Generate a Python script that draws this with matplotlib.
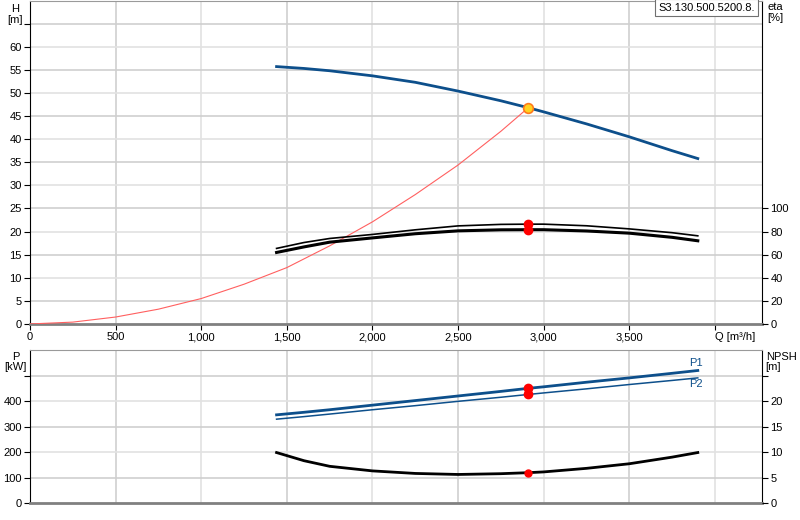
import matplotlib
matplotlib.use("Agg")
import matplotlib.pyplot as plt

plt.rcParams["font.family"] = ["Liberation Sans", "DejaVu Sans"]
plt.rcParams["font.size"] = 8

# ── Data ──────────────────────────────────────────────────────
q_pump = [1440, 1600, 1750, 2000, 2250, 2500, 2750, 2910, 3000, 3250, 3500, 3750, 3900]
head   = [55.7, 55.3, 54.8, 53.7, 52.3, 50.4, 48.3, 46.8, 45.9, 43.3, 40.5, 37.5, 35.8]
eta1   = [65.4, 70.5, 74.0, 77.5, 81.5, 84.9, 86.2, 86.4, 86.4, 85.0, 82.3, 79.0, 76.3]
eta2   = [61.9, 66.7, 70.8, 74.5, 78.1, 80.6, 81.5, 81.6, 81.6, 80.5, 78.6, 75.0, 72.0]
p1     = [346, 356, 366, 384, 402, 420, 438, 450, 456, 474, 491, 509, 520]
p2     = [329, 339, 349, 366, 382, 399, 415, 426, 432, 448, 465, 481, 491]
npsh   = [9.9, 8.3, 7.2, 6.3, 5.8, 5.6, 5.75, 5.95, 6.1, 6.8, 7.7, 9.0, 9.9]

q_sys = [0, 250, 500, 750, 1000, 1250, 1500, 1750, 2000, 2250, 2500, 2750, 2910]
h_sys = [0, 0.4, 1.5, 3.2, 5.5, 8.6, 12.2, 16.9, 22.1, 28.0, 34.4, 41.7, 46.8]

q_duty = 2910
h_duty = 46.8
eta_duty = [86.4, 81.6]
p_duty = [450, 426]
npsh_duty = 5.95

x_ticks = [0, 500, 1000, 1500, 2000, 2500, 3000, 3500, 4000]
h_ticks = [0, 5, 10, 15, 20, 25, 30, 35, 40, 45, 50, 55, 60, 65]
eta_ticks = [0, 20, 40, 60, 80, 100]
p_ticks = [0, 100, 200, 300, 400, 500]
npsh_ticks = [0, 5, 10, 15, 20, 25]
model_name = "S3.130.500.5200.8."

BLUE = "#0d4f8b"
GRID_A = "#cfcfcf"
GRID_B = "#e2e2e2"


def style_axes(ax, yticks, ylim):
    ax.set_xlim(0, 4275)
    ax.set_ylim(*ylim)
    ax.set_xticks(x_ticks)
    ax.set_yticks(yticks)
    ax.grid(False)
    for i, xv in enumerate(x_ticks[1:]):
        ax.axvline(xv, color=GRID_A if i % 2 == 0 else GRID_B, lw=1.2, zorder=0)
    for i, yv in enumerate(yticks[1:]):
        ax.axhline(yv, color=GRID_A if i % 2 == 0 else GRID_B, lw=1.2, zorder=0)
    ax.spines["left"].set_color("black")
    ax.spines["right"].set_color("black")
    ax.spines["top"].set_color("#9a9a9a")
    ax.spines["bottom"].set_color("#808080")
    ax.spines["bottom"].set_linewidth(2)
    ax.tick_params(direction="out", length=4, width=0.8, pad=2, labelsize=8)


fig = plt.figure(figsize=(8, 5.2), dpi=100)
fig.patch.set_facecolor("white")

# ── Top panel: H and eta ──────────────────────────────────────
ax_h = fig.add_axes([0.0375, 0.377, 0.915, 0.622])
style_axes(ax_h, h_ticks, (0, 70))
ax_h.set_yticklabels([str(v) if v <= 60 else "" for v in h_ticks])
ax_h.set_xticklabels([f"{v:,}" if v < 4000 else "" for v in x_ticks])

ax_h.plot(q_sys, h_sys, color="#ff6060", lw=0.8, zorder=3)
ax_h.plot(q_pump, head, color=BLUE, lw=2.0, zorder=4)
ax_h.plot([q_duty], [h_duty], "o", ms=7, mfc="#ffd21f", mec="#ff7a1a",
          mew=1.2, zorder=6)

ax_eta = ax_h.twinx()
ax_eta.set_ylim(0, 280)
ax_eta.set_yticks(eta_ticks)
ax_eta.tick_params(direction="out", length=4, width=0.8, pad=2, labelsize=8)
for s in ax_eta.spines.values():
    s.set_visible(False)
ax_eta.plot(q_pump, eta1, color="black", lw=1.2, zorder=4)
ax_eta.plot(q_pump, eta2, color="black", lw=2.2, zorder=4)
ax_eta.plot([q_duty, q_duty], eta_duty, "o", ms=6, color="red", zorder=6)

ax_h.text(-0.02, 0.99, "H\n[m]", transform=ax_h.transAxes, ha="center",
          va="top", fontsize=8, linespacing=1.1)
ax_h.text(1.007, 0.995, "eta\n[%]", transform=ax_h.transAxes, ha="left",
          va="top", fontsize=8, linespacing=1.1)
ax_h.annotate("Q [m³/h]", xy=(1, 0), xycoords="axes fraction",
              xytext=(-5, -6), textcoords="offset points",
              ha="right", va="top", fontsize=8)
ax_h.text(0.9905, 0.993, model_name, transform=ax_h.transAxes, ha="right",
          va="top", fontsize=8, zorder=10,
          bbox=dict(boxstyle="square,pad=0.3", fc="white", ec="#707070",
                    lw=0.8))

# ── Bottom panel: P and NPSH ──────────────────────────────────
ax_p = fig.add_axes([0.0375, 0.0327, 0.915, 0.294])
style_axes(ax_p, p_ticks, (0, 600))
ax_p.set_yticklabels([str(v) if v <= 400 else "" for v in p_ticks])
ax_p.set_xticklabels([])
ax_p.tick_params(axis="x", length=0)

ax_p.plot(q_pump, p1, color=BLUE, lw=2.0, zorder=4)
ax_p.plot(q_pump, p2, color=BLUE, lw=1.1, zorder=4)
ax_p.plot([q_duty, q_duty], p_duty, "o", ms=6, color="red", zorder=6)
ax_p.text(3850, 531, "P1", color=BLUE, fontsize=8, ha="left", va="bottom")
ax_p.text(3850, 487, "P2", color=BLUE, fontsize=8, ha="left", va="top")

ax_n = ax_p.twinx()
ax_n.set_ylim(0, 30)
ax_n.set_yticks(npsh_ticks)
ax_n.set_yticklabels([str(v) if v <= 20 else "" for v in npsh_ticks])
ax_n.tick_params(direction="out", length=4, width=0.8, pad=2, labelsize=8)
for s in ax_n.spines.values():
    s.set_visible(False)
ax_n.plot(q_pump, npsh, color="black", lw=2.0, zorder=4)
ax_n.plot([q_duty], [npsh_duty], "o", ms=5, color="red", zorder=6)

ax_p.text(-0.02, 0.99, "P\n[kW]", transform=ax_p.transAxes, ha="center",
          va="top", fontsize=8, linespacing=1.1)
ax_p.text(1.005, 0.99, "NPSH\n[m]", transform=ax_p.transAxes, ha="left",
          va="top", fontsize=8, linespacing=1.1)

fig.savefig("out.png", dpi=100, facecolor="white")
